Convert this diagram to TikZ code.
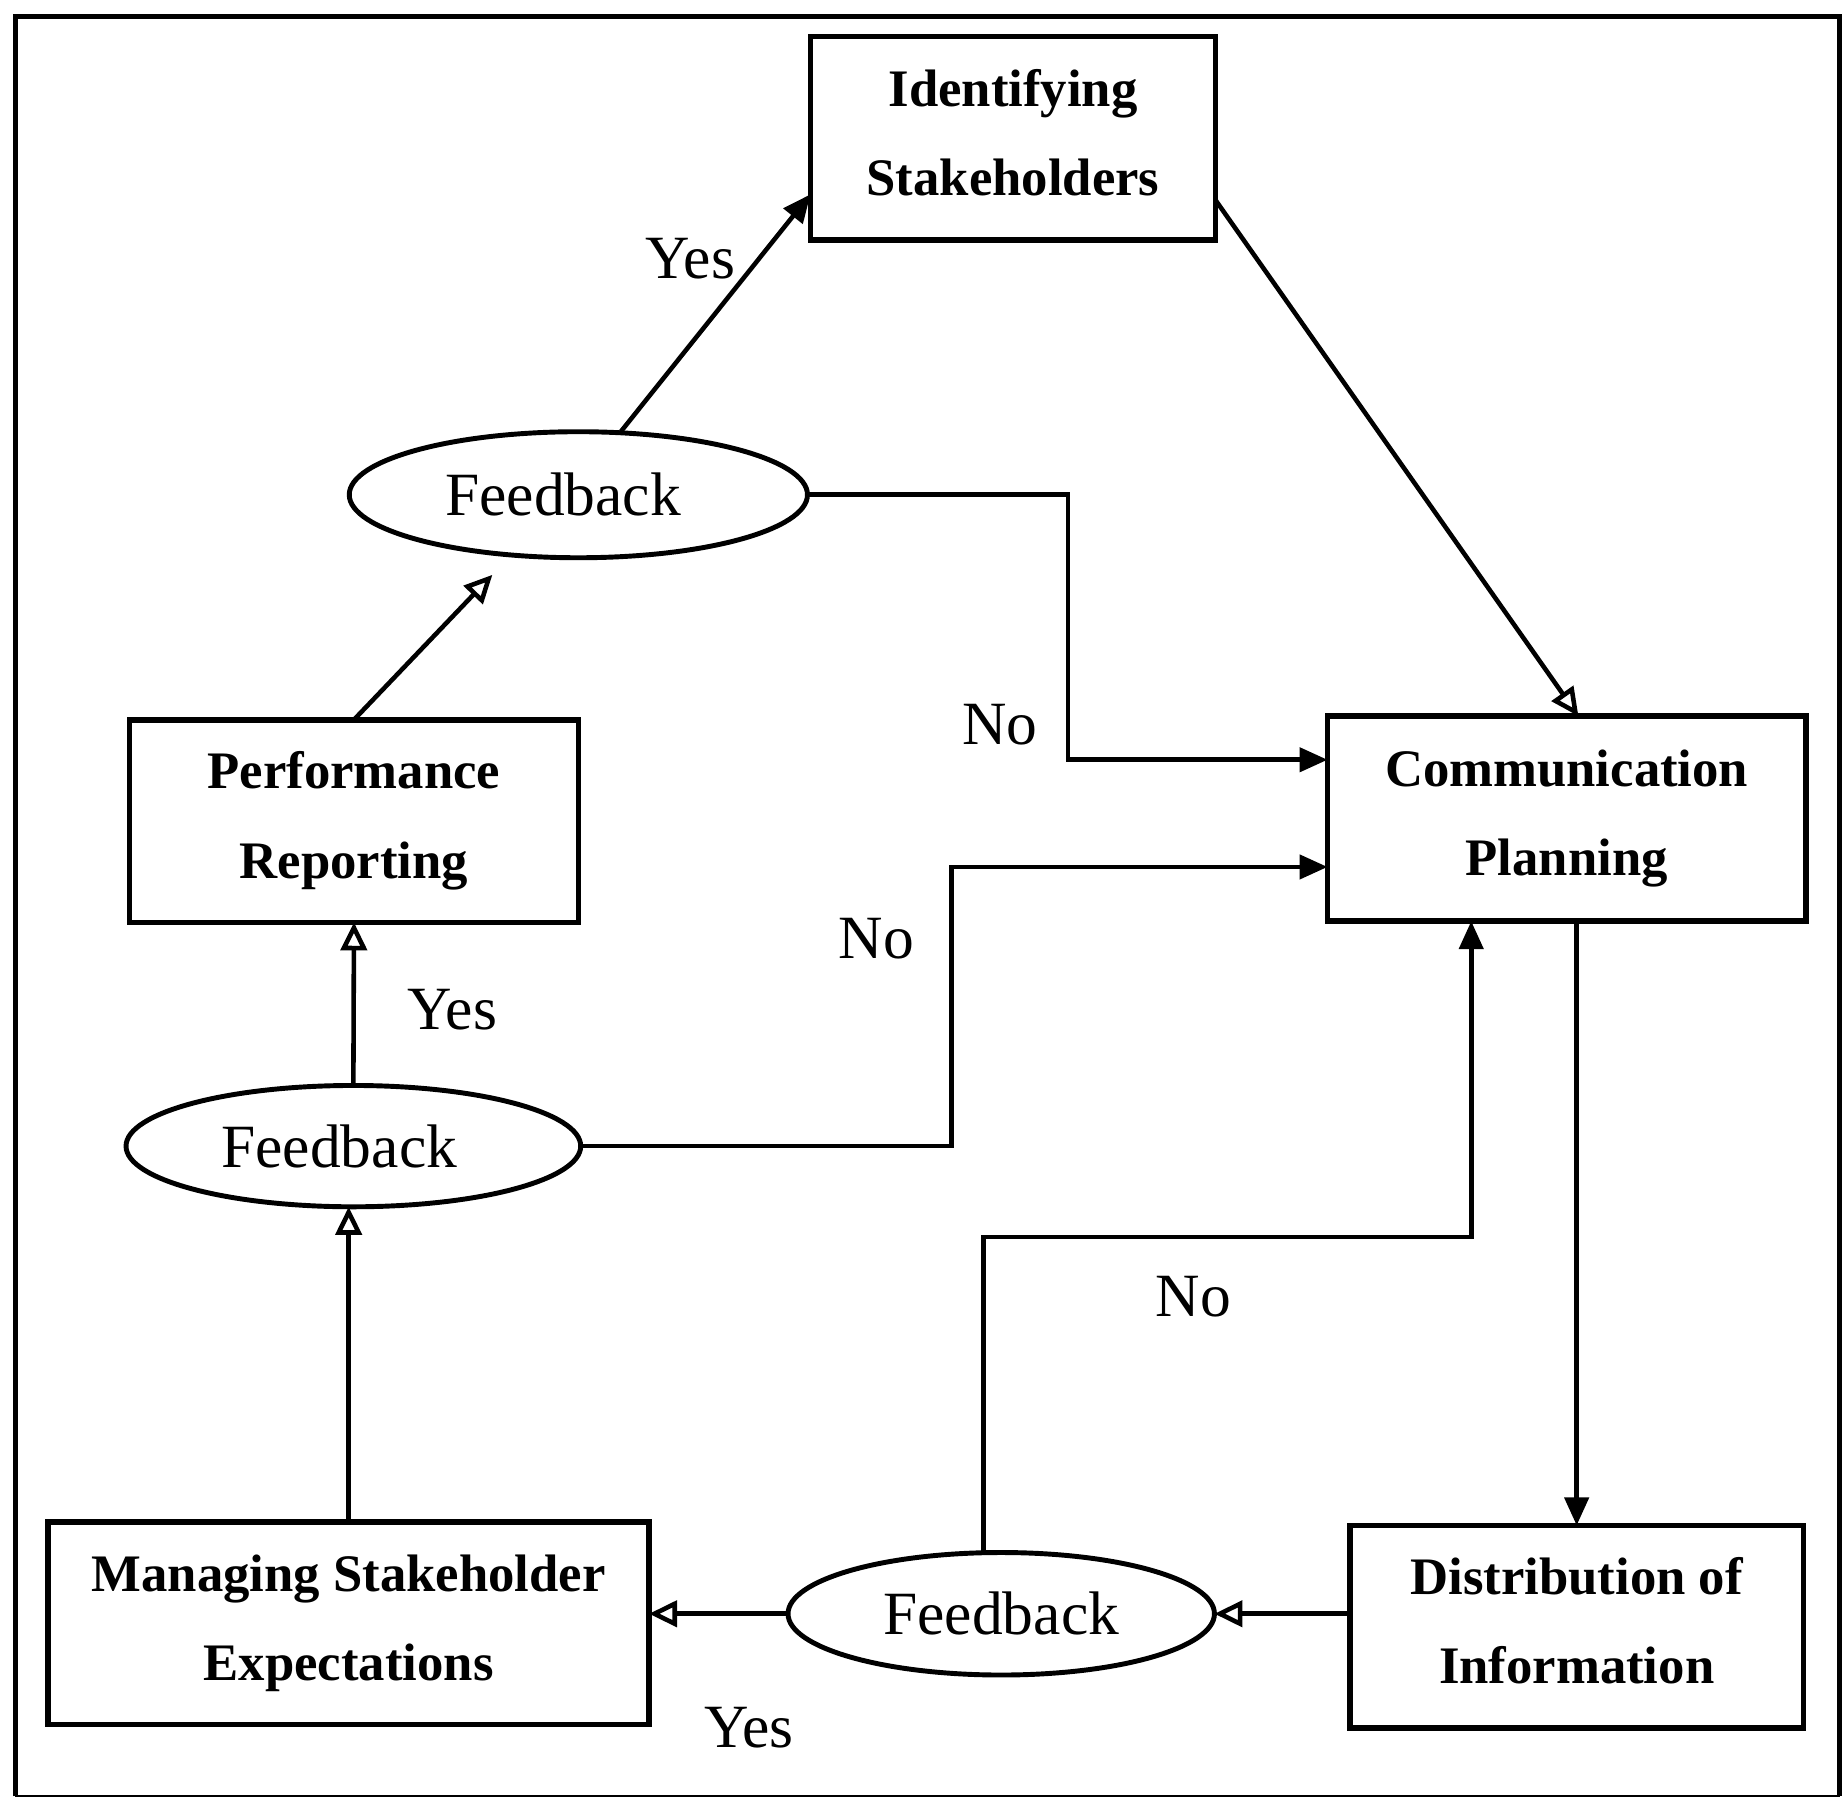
\documentclass[tikz,border=0pt]{standalone}
\usepackage{fontspec}
\setmainfont{Liberation Serif}
\usetikzlibrary{arrows.meta,shapes.geometric,calc}
\newcommand{\un}{0.1178mm}
\begin{document}
\begin{tikzpicture}[x=0.1178mm,y=-0.1178mm,
 box/.style={draw, line width=1.6pt, rectangle, inner sep=0pt, outer sep=0pt},
 boxtext/.style={align=center, inner sep=0pt, font=\bfseries\fontsize{15}{25.5}\selectfont},
 fbk/.style={draw, ellipse, line width=1.4pt, inner sep=0pt, outer sep=0pt, font=\fontsize{17.5}{20}\selectfont},
 lbl/.style={font=\fontsize{17.5}{20}\selectfont, inner sep=0pt},
 conn/.style={line width=1.3pt},
 solidtip/.style={conn, -{Triangle[length=2.8mm,width=2.4mm]}},
 opentip/.style={conn, -{Triangle[open,length=2.8mm,width=2.6mm]}},
]
\useasboundingbox (0,0) rectangle (1568,1528);
% frame
\draw[line width=1.4pt] (13,1525) -- (13,14) -- (1562,14) -- (1562,1525);
\draw[line width=0.6pt] (13,1525) -- (1562,1525);

% boxes
\node[box, minimum width=344*\un, minimum height=173*\un] (ident) at (860,117.5) {};
\node[box, minimum width=406*\un, minimum height=174*\un] (comm) at (1330,695) {};
\node[box, minimum width=381*\un, minimum height=172*\un] (perf) at (300.5,697) {};
\node[box, minimum width=510*\un, minimum height=172*\un] (manage) at (296,1378) {};
\node[box, minimum width=385*\un, minimum height=172*\un] (distr) at (1338.5,1381) {};

\node[boxtext] (identt) at ($(ident)+(0,-5)$) {Identifying\\Stakeholders};
\node[boxtext] (commt) at (comm) {Communication\\Planning};
\node[boxtext] (perft) at (perf) {Performance\\Reporting};
\node[boxtext] (managet) at (manage) {Managing Stakeholder\\Expectations};
\node[boxtext] (distrt) at ($(distr)+(0,-5)$) {Distribution of\\Information};

% ellipses
\node[fbk, minimum width=389*\un, minimum height=107*\un] (fb1) at (491,420) {\hspace*{-3.06mm}Feedback};
\node[fbk, minimum width=386*\un, minimum height=103*\un] (fb2) at (300,973) {\hspace*{-2.83mm}Feedback};
\node[fbk, minimum width=362*\un, minimum height=104*\un] (fb3) at (850,1370) {Feedback};

% connectors
\draw[solidtip] ($(fb1.north)+(36,0)$) -- ($(ident.west)+(0,47.5)$);
\draw[opentip] ($(ident.east)+(0,52.5)$) -- ($(comm.north)+(10,0)$);
\draw[solidtip] (fb1.east) -- ++(221,0) |- ($(comm.west)+(0,-50)$);
\coordinate (p4) at (418,488);
\draw[opentip] (perf.north) -- (p4);
\draw[opentip] (fb2.north) -- (perf.south);
\draw[solidtip] (fb2.east) -- ++(315,0) |- ($(comm.west)+(0,41)$);
\draw[opentip] (manage.north) -- (manage.north |- fb2.south);
\draw[solidtip] (comm.south -| distr.north) -- (distr.north);
\draw[opentip] (distr.west |- fb3.east) -- (fb3.east);
\draw[opentip] (fb3.west) -- (manage.east |- fb3.west);
\draw[solidtip] ($(fb3.north)+(-15,0)$) -- ++(0,-268) -| ($(comm.south)+(-81,0)$);

% labels
\node[lbl] (y1) at (586,220) {Yes};
\node[lbl] (y2) at (384,857) {Yes};
\node[lbl] (y3) at (636,1467) {Yes};
\node[lbl] (n1) at (849,615) {No};
\node[lbl] (n2) at (744,797) {No};
\node[lbl] (n3) at (1013,1101) {No};
\end{tikzpicture}
\end{document}
